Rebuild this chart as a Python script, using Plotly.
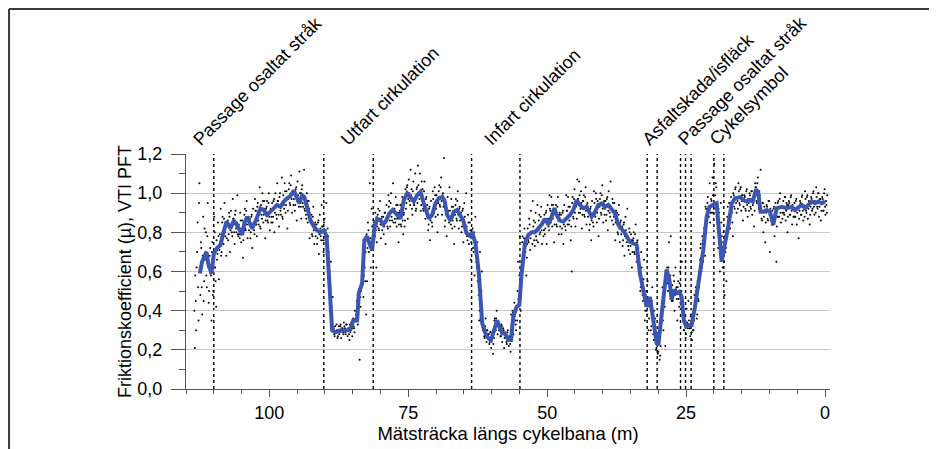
import plotly.graph_objects as go

# ---- smoothed friction curve (blue line): distance (m), friction coefficient
line_x = [112.5,112.1,111.3,111.0,110.4,110.0,109.4,108.8,108.3,107.7,107.0,106.4,105.6,104.9,104.5,104.0,103.1,102.5,101.6,101.0,
          100.4,99.8,99.2,98.6,98.0,97.4,96.8,96.2,95.6,95.0,94.6,94.1,93.7,93.2,92.6,92.0,91.4,90.8,90.2,89.7,
          89.1,88.7,88.1,87.2,86.3,85.4,84.9,84.2,83.9,83.3,82.9,82.4,82.0,81.5,81.1,80.6,80.0,79.5,79.0,78.4,
          77.8,77.0,76.4,
          75.8,75.2,74.6,74.0,73.4,72.8,72.2,71.3,70.7,70.1,69.5,68.9,68.5,68.0,67.4,66.8,66.2,65.6,65.1,64.5,
          63.8,63.5,62.9,62.3,62.0,61.7,61.2,60.6,60.1,59.5,59.0,58.6,58.1,57.6,57.0,56.5,56.1,55.5,55.0,54.6,
          54.0,53.4,52.8,52.2,51.6,51.0,50.4,49.8,49.2,48.7,48.3,47.7,47.1,46.5,45.9,45.3,44.7,44.1,43.5,42.9,
          42.0,41.4,40.8,40.2,39.6,39.0,38.4,37.8,37.2,36.6,36.0,35.1,34.5,33.9,33.3,32.7,32.1,31.5,30.9,30.3,
          30.0,29.4,28.5,28.0,27.6,27.2,26.7,26.2,25.8,25.4,25.0,24.6,24.0,23.4,22.5,
          21.9,21.3,20.8,20.1,19.5,19.2,18.6,18.0,17.4,16.8,16.2,15.3,14.7,14.1,13.5,13.0,12.4,12.0,11.6,11.0,
          10.5,9.9,9.3,8.7,7.8,6.9,6.0,5.4,4.8,4.2,3.6,3.0,2.4,1.8,1.2,0.6,0.0]
line_y = [0.59,0.65,0.70,0.64,0.59,0.69,0.72,0.735,0.795,0.855,0.82,0.86,0.826,0.787,0.846,0.88,0.82,0.855,0.923,0.914,
          0.889,0.905,0.923,0.94,0.93,0.957,0.974,0.986,1.013,0.974,0.948,0.99,0.98,0.93,0.86,0.83,0.81,0.80,0.81,0.78,
          0.52,0.30,0.29,0.30,0.298,0.305,0.35,0.35,0.49,0.54,0.76,0.78,0.744,0.71,0.82,0.87,0.86,0.84,0.86,0.897,
          0.914,0.89,0.87,
          0.965,0.999,0.98,0.957,0.99,1.007,0.948,0.87,0.889,0.948,0.974,0.98,0.965,0.889,0.86,0.905,0.914,0.889,0.86,0.795,
          0.78,0.80,0.744,0.59,0.42,0.336,0.29,0.26,0.25,0.30,0.35,0.32,0.285,0.285,0.25,0.25,0.37,0.42,0.43,0.59,
          0.744,0.787,0.80,0.80,0.82,0.84,0.87,0.84,0.88,0.923,0.889,0.86,0.855,0.87,0.889,0.914,0.965,0.94,0.923,0.93,
          0.88,0.905,0.94,0.948,0.93,0.94,0.914,0.897,0.84,0.82,0.795,0.752,0.744,0.735,0.59,0.49,0.42,0.47,0.35,0.233,
          0.225,0.387,0.61,0.557,0.455,0.506,0.49,0.497,0.47,0.35,0.32,0.327,0.327,0.42,0.60,
          0.71,0.88,0.93,0.94,0.948,0.846,0.65,0.744,0.83,0.948,0.974,0.98,0.965,0.957,0.965,0.957,1.02,1.0,0.905,0.905,
          0.914,0.905,0.84,0.923,0.93,0.923,0.93,0.914,0.93,0.94,0.923,0.94,0.957,0.948,0.957,0.948,0.957]

# ---- raw measurements (black dots): one row per metre, from 113 m down to 0 m
dot_start_m = 113
dot_rows_spread = [
    [0.21,0.45,0.62,0.85,0.35,1.05],[0.48,0.72,0.38,0.88,0.55,0.66],[0.80,0.52,0.95,0.44,0.68,0.59],
    [0.35,0.75,0.50,0.88,0.62,0.42],[0.66,0.85,0.56,0.79,0.92,0.70],[0.88,0.74,0.95,0.78,0.68,0.85],
    [0.76,0.90,0.70,0.91,0.80,0.97],[0.87,0.74,0.91,0.80,0.99,0.78],[0.79,0.90,0.75,0.86,0.67,0.82],
    [0.92,0.81,0.96,0.77,0.88,0.84],[0.77,0.88,0.72,0.92,0.81,0.97],[0.91,0.78,0.95,0.84,1.03,0.82],
    [0.89,1.00,0.85,0.96,0.77,0.92],[0.96,0.85,1.00,0.81,0.92,0.88],[0.85,0.96,0.80,1.00,0.89,1.05],
    [0.96,0.83,1.00,0.89,1.08,0.87],[0.94,1.05,0.90,1.01,0.82,0.97],[1.05,0.94,1.09,0.90,1.01,0.97],
    [0.91,1.02,0.86,1.06,0.95,1.11],[1.00,0.87,1.04,0.93,1.12,0.91],[0.89,1.00,0.85,0.96,0.77,1.22],
    [0.89,0.78,0.93,0.74,0.85,0.81],[0.74,0.85,0.69,0.89,0.78,0.94],[0.83,0.70,0.87,0.76,0.95,0.74],
    [0.78,0.55,0.40,0.65,0.34,0.47],[0.31,0.27,0.29,0.33,0.26,0.30],[0.28,0.32,0.26,0.31,0.29,0.34],
    [0.31,0.28,0.33,0.27,0.30,0.25],[0.29,0.34,0.27,0.36,0.31,0.40],[0.38,0.45,0.33,0.50,0.15,0.42],
    [0.52,0.60,0.47,0.66,0.55,0.38],[0.55,0.85,0.70,1.05,0.62,0.92],[0.72,0.86,0.78,0.90,0.62,0.83],
    [0.92,0.81,0.96,0.77,0.88,0.84],[0.79,0.90,0.74,0.94,0.83,0.99],[0.96,0.83,1.00,0.86,1.05,0.91],
    [0.87,0.98,0.83,0.94,0.75,0.90],[0.94,0.83,0.98,0.79,0.90,0.86],[0.92,1.03,0.87,1.07,0.96,1.12],
    [1.02,0.89,1.06,0.94,1.10,0.92],[1.03,1.14,0.99,1.10,0.91,1.06],[1.02,0.91,1.06,0.87,0.98,0.94],
    [0.81,0.92,0.76,0.96,0.85,1.01],[0.92,1.03,0.88,0.99,0.80,0.95],[1.04,0.93,1.08,0.89,1.00,1.18],
    [0.83,0.94,0.78,0.98,0.87,1.03],[0.86,0.97,0.82,0.93,0.74,0.89],[0.97,0.86,1.01,0.82,0.93,0.89],
    [0.80,0.91,0.75,0.95,0.84,1.00],[0.78,0.89,0.74,0.85,0.66,0.81],[0.82,0.70,0.58,0.88,0.65,0.75],
    [0.55,0.35,0.70,0.42,0.60,0.30],[0.32,0.26,0.36,0.24,0.30,0.28],[0.23,0.29,0.21,0.27,0.18,0.26],
    [0.36,0.30,0.40,0.28,0.34,0.31],[0.27,0.33,0.24,0.31,0.21,0.28],[0.28,0.23,0.30,0.22,0.26,0.19],
    [0.33,0.40,0.28,0.44,0.35,0.30],[0.35,0.65,0.48,0.78,0.40,0.56],[0.78,0.65,0.82,0.70,0.58,0.74],
    [0.76,0.87,0.71,0.91,0.80,0.96],[0.86,0.73,0.90,0.76,0.94,0.81],[0.89,0.80,0.93,0.74,0.85,0.81],
    [0.79,0.90,0.74,0.94,0.83,0.99],[0.91,0.98,0.83,0.94,0.75,0.90],[0.94,0.83,0.98,0.79,0.90,0.86],
    [0.79,0.90,0.74,0.94,0.83,0.99],[0.91,0.98,0.84,0.93,0.76,0.60],[0.98,0.87,1.02,0.83,0.94,1.07],
    [0.97,1.06,0.90,1.01,0.82,0.96],[0.99,0.88,1.03,0.84,0.95,0.91],[0.81,0.92,0.76,0.96,0.85,1.01],
    [0.89,1.00,0.85,0.96,0.78,0.93],[1.00,0.89,1.04,0.85,0.96,0.92],[0.86,0.97,0.81,1.01,0.90,1.06],
    [0.92,0.97,0.84,0.95,0.76,0.91],[0.90,0.79,0.94,0.75,0.86,0.82],[0.73,0.84,0.68,0.88,0.77,0.92],
    [0.73,0.82,0.69,0.79,0.62,0.76],[0.80,0.69,0.84,0.65,0.76,0.72],[0.62,0.50,0.70,0.55,0.45,0.66],
    [0.35,0.48,0.40,0.55,0.30,0.44],[0.45,0.32,0.52,0.28,0.40,0.36],[0.20,0.25,0.18,0.28,0.15,0.22],
    [0.38,0.52,0.30,0.45,0.22,0.60],[0.62,0.50,0.75,0.55,0.78,0.45],[0.45,0.58,0.40,0.62,0.52,0.35],
    [0.55,0.42,0.60,0.47,0.65,0.38],[0.30,0.38,0.26,0.41,0.33,0.45],[0.32,0.27,0.38,0.25,0.30,0.35],
    [0.40,0.52,0.36,0.55,0.45,0.60],[0.72,0.60,0.78,0.65,0.82,0.68],[0.92,0.85,0.98,0.88,1.05,0.90],
    [0.96,1.08,0.90,1.15,0.99,1.03],[0.85,0.72,0.90,0.60,0.95,0.78],[0.62,0.80,0.48,0.70,0.55,0.88],
    [0.86,0.95,0.82,0.98,0.90,0.78],[0.99,0.92,1.03,0.90,0.96,1.05],[0.95,1.02,0.91,0.99,0.86,0.97],
    [0.98,0.91,1.02,0.88,0.95,1.00],[0.93,1.01,0.89,0.97,0.83,1.05],[1.03,0.95,1.08,0.92,0.99,1.12],
    [0.87,0.95,0.80,0.93,0.75,0.90],[0.93,0.86,0.96,0.70,0.89,0.84],[0.84,0.92,0.78,0.95,0.65,0.88],
    [0.96,0.88,1.00,0.85,0.93,0.90],[0.90,0.98,0.86,0.95,0.80,0.94],[0.95,0.89,0.99,0.84,0.93,0.88],
    [0.88,0.96,0.84,0.93,0.77,0.91],[0.95,0.89,0.99,0.86,0.92,1.01],[0.91,0.98,0.87,0.96,0.84,0.93],
    [0.97,0.92,1.01,0.89,0.95,1.03],[0.93,1.00,0.88,0.97,0.86,0.95],[0.97,0.91,1.02,0.89,0.94,0.99],
]
# dense core of the cloud, close to the curve (same metre rows)
dot_rows_core = [
    [0.40,0.58,0.30,0.70,0.52,0.95],[0.60,0.75,0.52,0.68,0.45,0.82],[0.70,0.58,0.78,0.62,0.50,0.72],
    [0.58,0.70,0.48,0.66,0.80,0.55],[0.76,0.69,0.78,0.71,0.74,0.68],[0.85,0.78,0.87,0.80,0.83,0.77],
    [0.86,0.79,0.88,0.81,0.84,0.78],[0.87,0.80,0.89,0.82,0.85,0.79],[0.84,0.77,0.86,0.79,0.82,0.76],
    [0.89,0.82,0.91,0.84,0.87,0.81],[0.87,0.80,0.89,0.82,0.85,0.79],[0.91,0.84,0.93,0.86,0.89,0.83],
    [0.94,0.87,0.96,0.89,0.92,0.86],[0.93,0.86,0.95,0.88,0.91,0.85],[0.95,0.88,0.97,0.90,0.93,0.87],
    [0.96,0.89,0.98,0.91,0.94,0.88],[0.99,0.92,1.01,0.94,0.97,0.91],[1.02,0.95,1.04,0.97,1.00,0.94],
    [1.01,0.94,1.03,0.96,0.99,0.93],[1.00,0.93,1.02,0.95,0.98,0.92],[0.94,0.87,0.96,0.89,0.92,0.86],
    [0.86,0.79,0.88,0.81,0.84,0.78],[0.84,0.77,0.86,0.79,0.82,0.76],[0.83,0.76,0.85,0.78,0.81,0.75],
    [0.82,0.70,0.60,0.50,0.42,0.36],[0.31,0.28,0.32,0.29,0.30,0.27],[0.32,0.29,0.33,0.30,0.31,0.28],
    [0.32,0.29,0.33,0.30,0.31,0.28],[0.33,0.30,0.34,0.31,0.32,0.29],[0.36,0.35,0.40,0.38,0.44,0.47],
    [0.50,0.53,0.56,0.58,0.62,0.70],[0.79,0.72,0.81,0.74,0.77,0.71],[0.83,0.76,0.85,0.78,0.81,0.75],
    [0.89,0.82,0.91,0.84,0.87,0.81],[0.88,0.83,0.90,0.85,0.86,0.82],[0.93,0.86,0.95,0.88,0.91,0.85],
    [0.92,0.85,0.94,0.87,0.90,0.84],[0.91,0.84,0.93,0.86,0.89,0.83],[1.02,0.95,1.04,0.97,1.00,0.94],
    [0.99,0.92,1.01,0.94,0.97,0.91],[1.02,0.95,1.04,0.97,1.00,0.94],[0.99,0.92,1.01,0.94,0.97,0.91],
    [0.91,0.84,0.93,0.86,0.89,0.83],[0.97,0.90,0.99,0.92,0.95,0.89],[1.01,0.94,1.03,0.96,0.99,0.93],
    [0.93,0.86,0.95,0.88,0.91,0.85],[0.91,0.84,0.93,0.86,0.89,0.83],[0.94,0.87,0.96,0.89,0.92,0.86],
    [0.90,0.83,0.92,0.85,0.88,0.82],[0.83,0.76,0.85,0.78,0.81,0.75],[0.79,0.72,0.80,0.74,0.68,0.62],
    [0.55,0.48,0.40,0.36,0.50,0.33],[0.31,0.27,0.32,0.28,0.30,0.26],[0.28,0.24,0.29,0.25,0.27,0.23],
    [0.35,0.31,0.36,0.32,0.34,0.30],[0.31,0.27,0.32,0.28,0.30,0.26],[0.28,0.24,0.29,0.25,0.27,0.23],
    [0.38,0.34,0.39,0.35,0.37,0.33],[0.42,0.50,0.46,0.58,0.52,0.62],[0.75,0.68,0.77,0.70,0.73,0.67],
    [0.82,0.75,0.84,0.77,0.80,0.74],[0.83,0.76,0.85,0.78,0.81,0.75],[0.86,0.79,0.88,0.81,0.84,0.78],
    [0.89,0.82,0.91,0.84,0.87,0.81],[0.92,0.85,0.94,0.87,0.90,0.84],[0.91,0.84,0.93,0.86,0.89,0.83],
    [0.89,0.82,0.91,0.84,0.87,0.81],[0.91,0.84,0.93,0.86,0.89,0.83],[0.95,0.88,0.97,0.90,0.93,0.87],
    [0.97,0.90,0.99,0.92,0.95,0.89],[0.96,0.89,0.98,0.91,0.94,0.88],[0.91,0.84,0.93,0.86,0.89,0.83],
    [0.95,0.88,0.97,0.90,0.93,0.87],[0.97,0.90,0.99,0.92,0.95,0.89],[0.96,0.89,0.98,0.91,0.94,0.88],
    [0.93,0.86,0.95,0.88,0.91,0.85],[0.87,0.80,0.89,0.82,0.85,0.79],[0.83,0.76,0.85,0.78,0.81,0.75],
    [0.78,0.71,0.80,0.73,0.76,0.70],[0.77,0.70,0.79,0.72,0.75,0.69],[0.68,0.58,0.52,0.62,0.48,0.56],
    [0.46,0.40,0.50,0.38,0.44,0.36],[0.42,0.30,0.45,0.35,0.25,0.33],[0.25,0.21,0.27,0.19,0.24,0.17],
    [0.30,0.40,0.35,0.50,0.42,0.55],[0.60,0.54,0.62,0.52,0.58,0.48],[0.53,0.47,0.55,0.48,0.51,0.46],
    [0.52,0.46,0.54,0.44,0.50,0.40],[0.35,0.30,0.37,0.28,0.34,0.31],[0.35,0.31,0.37,0.29,0.34,0.30],
    [0.48,0.42,0.50,0.38,0.46,0.52],[0.66,0.74,0.62,0.76,0.70,0.80],[0.93,0.86,0.95,0.88,0.91,0.85],
    [0.97,0.90,0.99,0.92,0.95,1.05],[0.88,0.82,0.92,0.76,0.70,0.85],[0.68,0.75,0.65,0.78,0.72,0.82],
    [0.93,0.86,0.95,0.88,0.91,0.85],[1.00,0.93,1.02,0.95,0.98,0.92],[1.01,0.94,1.03,0.96,0.99,0.93],
    [0.99,0.92,1.01,0.94,0.97,0.91],[0.99,0.92,1.01,0.94,0.97,0.91],[1.03,0.96,1.05,0.98,1.01,0.95],
    [0.93,0.86,0.95,0.88,0.91,0.85],[0.94,0.87,0.96,0.89,0.92,0.86],[0.91,0.84,0.93,0.86,0.89,0.83],
    [0.95,0.88,0.97,0.90,0.93,0.87],[0.96,0.89,0.98,0.91,0.94,0.88],[0.96,0.89,0.98,0.91,0.94,0.88],
    [0.95,0.88,0.97,0.90,0.93,0.87],[0.96,0.89,0.98,0.91,0.94,0.88],[0.97,0.90,0.99,0.92,0.95,0.89],
    [0.98,0.91,1.00,0.93,0.96,0.90],[0.98,0.92,1.00,0.93,0.97,0.91],[0.98,0.91,1.00,0.93,0.96,0.90],
]

# ---- event markers (dotted lines) and labels
event_x = [110.0, 90.2, 81.3, 63.6, 54.9, 32.0, 30.2, 26.0, 25.1, 24.1, 20.0, 18.2]
label_text = ["Passage osaltat stråk", "Utfart cirkulation", "Infart cirkulation",
              "Asfaltskada/isfläck", "Passage osaltat stråk", "Cykelsymbol"]
label_x = [114.9, 88.3, 62.5, 34.0, 27.7, 22.0]

y_ticks = [0.0, 0.2, 0.4, 0.6, 0.8, 1.0, 1.2]
x_ticks = [100, 75, 50, 25, 0]

# flatten raw samples: each metre row sampled evenly across the metre
dot_x, dot_y = [], []
for rows, off in ((dot_rows_spread, 0.5), (dot_rows_core, 0.0)):
    for i, row in enumerate(rows):
        m = dot_start_m - i
        n = len(row)
        for j, v in enumerate(row):
            dot_x.append(m + 0.5 - (j + off) / n)
            dot_y.append(v)

FONT = "Arial, Liberation Sans, sans-serif"

fig = go.Figure()
fig.add_trace(go.Scatter(x=dot_x, y=dot_y, mode="markers",
                         marker=dict(size=2, color="black"), hoverinfo="skip", showlegend=False))
fig.add_trace(go.Scatter(x=line_x, y=line_y, mode="lines",
                         line=dict(color="#3a55b2", width=4), showlegend=False))

for ex in event_x:
    fig.add_shape(type="line", xref="x", yref="y", x0=ex, x1=ex, y0=0, y1=1.2,
                  line=dict(color="black", width=1.4, dash="dot"), layer="below")

for t, lx in zip(label_text, label_x):
    fig.add_annotation(x=lx, y=1.0, xref="x", yref="paper", text=t, showarrow=False,
                       textangle=-45, xanchor="left", yanchor="bottom", yshift=2,
                       font=dict(family=FONT, size=18, color="black"))

# outer frame (top and left edges visible)
fig.add_shape(type="line", xref="paper", yref="paper", x0=-0.2748, x1=1.3, y0=1.617, y1=1.617,
              line=dict(color="#3a3a3a", width=2))
fig.add_shape(type="line", xref="paper", yref="paper", x0=-0.2748, x1=-0.2748, y0=1.617, y1=-0.4,
              line=dict(color="#3a3a3a", width=2))

fig.update_layout(
    width=937, height=449,
    margin=dict(l=178, r=115, t=146, b=68),
    paper_bgcolor="white", plot_bgcolor="white",
    separators=", ",
    font=dict(family=FONT, size=18, color="black"),
    xaxis=dict(range=[115, -0.9], tickvals=x_ticks, ticks="outside", ticklen=7, tickwidth=1,
               tickcolor="#555", showline=True, linecolor="#555", linewidth=1,
               showgrid=False, zeroline=False,
               minor=dict(dtick=5, ticks="outside", ticklen=4, tickcolor="#555"),
               title=dict(text="Mätsträcka längs cykelbana (m)", standoff=4,
                          font=dict(family=FONT, size=18.5)),
               tickfont=dict(family=FONT, size=18)),
    yaxis=dict(range=[0, 1.2], tickvals=y_ticks, tickformat=".1f", ticks="outside", ticklen=14,
               tickwidth=1, tickcolor="#555", showline=True, linecolor="#555", linewidth=1,
               showgrid=True, gridcolor="#c8c8c8", gridwidth=1, zeroline=False,
               ticklabelstandoff=5,
               minor=dict(dtick=0.1, ticks="outside", ticklen=6, tickcolor="#555", showgrid=False),
               title=dict(text="Friktionskoefficient (µ), VTI PFT", standoff=1,
                          font=dict(family=FONT, size=18)),
               tickfont=dict(family=FONT, size=18)),
)

fig.write_html("out.html")
